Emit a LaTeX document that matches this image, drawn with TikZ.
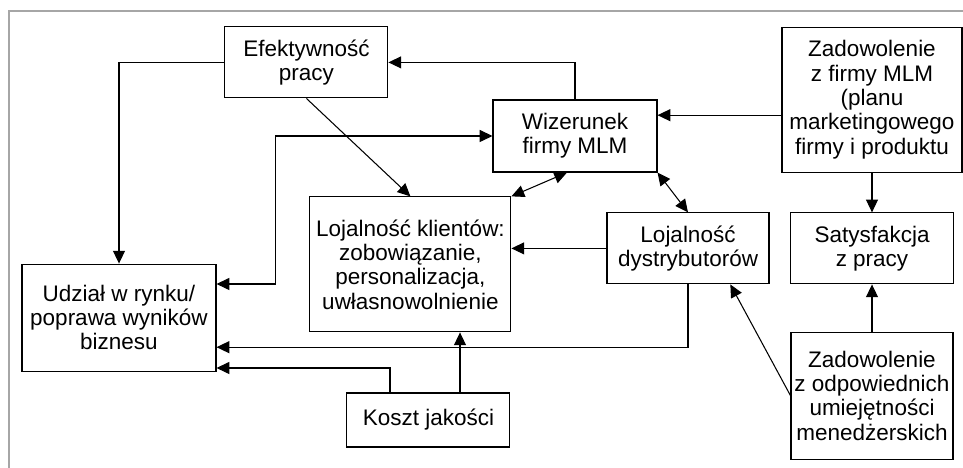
\documentclass[tikz,border=0pt]{standalone}
\usepackage{fontspec}
\setmainfont{Liberation Sans}
\usetikzlibrary{arrows.meta}
\begin{document}
\begin{tikzpicture}[>={Triangle[length=0.32cm,width=0.3cm]},
  box/.style={draw, line width=0.75pt, align=center, inner sep=0pt,
    font=\fontsize{16}{17.3}\selectfont}]
\useasboundingbox (0,0) rectangle (24.075,11.7);
\draw[gray!70, line width=0.8pt] (24.075,11.425)--(0.225,11.425)--(0.225,0);
% boxes
\node[box, minimum width=4.075cm, minimum height=1.775cm] (eff) at (7.66,10.14) {Efektywność\\pracy};
\node[box, minimum width=4.1cm, minimum height=1.8cm] (wiz) at (14.375,8.3) {Wizerunek\\firmy MLM};
\node[box, minimum width=4.5cm, minimum height=3.625cm] (zfirm) at (21.8,9.21) {Zadowolenie\\z firmy MLM\\(planu\\marketingowego\\firmy i produktu};
\node[box, minimum width=5.025cm, minimum height=3.375cm] (klient) at (10.26,5.09) {Lojalność klientów:\\zobowiązanie,\\personalizacja,\\uwłasnowolnienie};
\node[box, minimum width=4.05cm, minimum height=1.775cm] (dystr) at (17.2,5.49) {Lojalność\\dystrybutorów};
\node[box, minimum width=4.075cm, minimum height=1.775cm] (satys) at (21.8,5.49) {Satysfakcja\\z pracy};
\node[box, minimum width=4.85cm, minimum height=2.675cm] (udzial) at (2.975,3.76) {Udział w rynku/\\poprawa wyników\\biznesu};
\node[box, minimum width=4.075cm, minimum height=1.35cm] (koszt) at (10.71,1.2) {Koszt jakości};
\node[box, minimum width=4.05cm, minimum height=3.175cm] (zodp) at (21.8,1.81) {Zadowolenie\\z odpowiednich\\umiejętności\\menedżerskich};
% connectors
\draw[->, line width=0.75pt] (wiz.north) |- (eff.east);
\draw[->, line width=0.75pt] (eff.west) -| (udzial.north);
\draw[->, line width=0.75pt] (eff.south) -- (klient.north);
\draw[<->, line width=0.75pt] ([yshift=0.84cm]udzial.east) -- ++(1.475,0) |- (wiz.west);
\draw[<->, line width=0.75pt] (klient.north east) -- ([xshift=-0.2cm]wiz.south);
\draw[<->, line width=0.75pt] (wiz.south east) -- (dystr.north);
\draw[->, line width=0.75pt] ([yshift=-0.39cm]zfirm.west) coordinate (zf) -- (zf -| wiz.east);
\draw[->, line width=0.75pt] (zfirm.south) -- (satys.north);
\draw[->, line width=0.75pt] (dystr.west) -- (dystr.west -| klient.east);
\draw[->, line width=0.75pt] (dystr.south) |- ([yshift=-0.74cm]udzial.east);
\draw[->, line width=0.75pt] ([xshift=-0.96cm]koszt.north) |- ([yshift=-1.26cm]udzial.east);
\draw[->, line width=0.75pt] ([xshift=0.79cm]koszt.north) coordinate (k) -- (k |- klient.south);
\draw[->, line width=0.75pt] (zodp.west) -- ([xshift=-0.98cm]dystr.south east);
\draw[->, line width=0.75pt] (zodp.north) -- (satys.south);
\end{tikzpicture}
\end{document}
